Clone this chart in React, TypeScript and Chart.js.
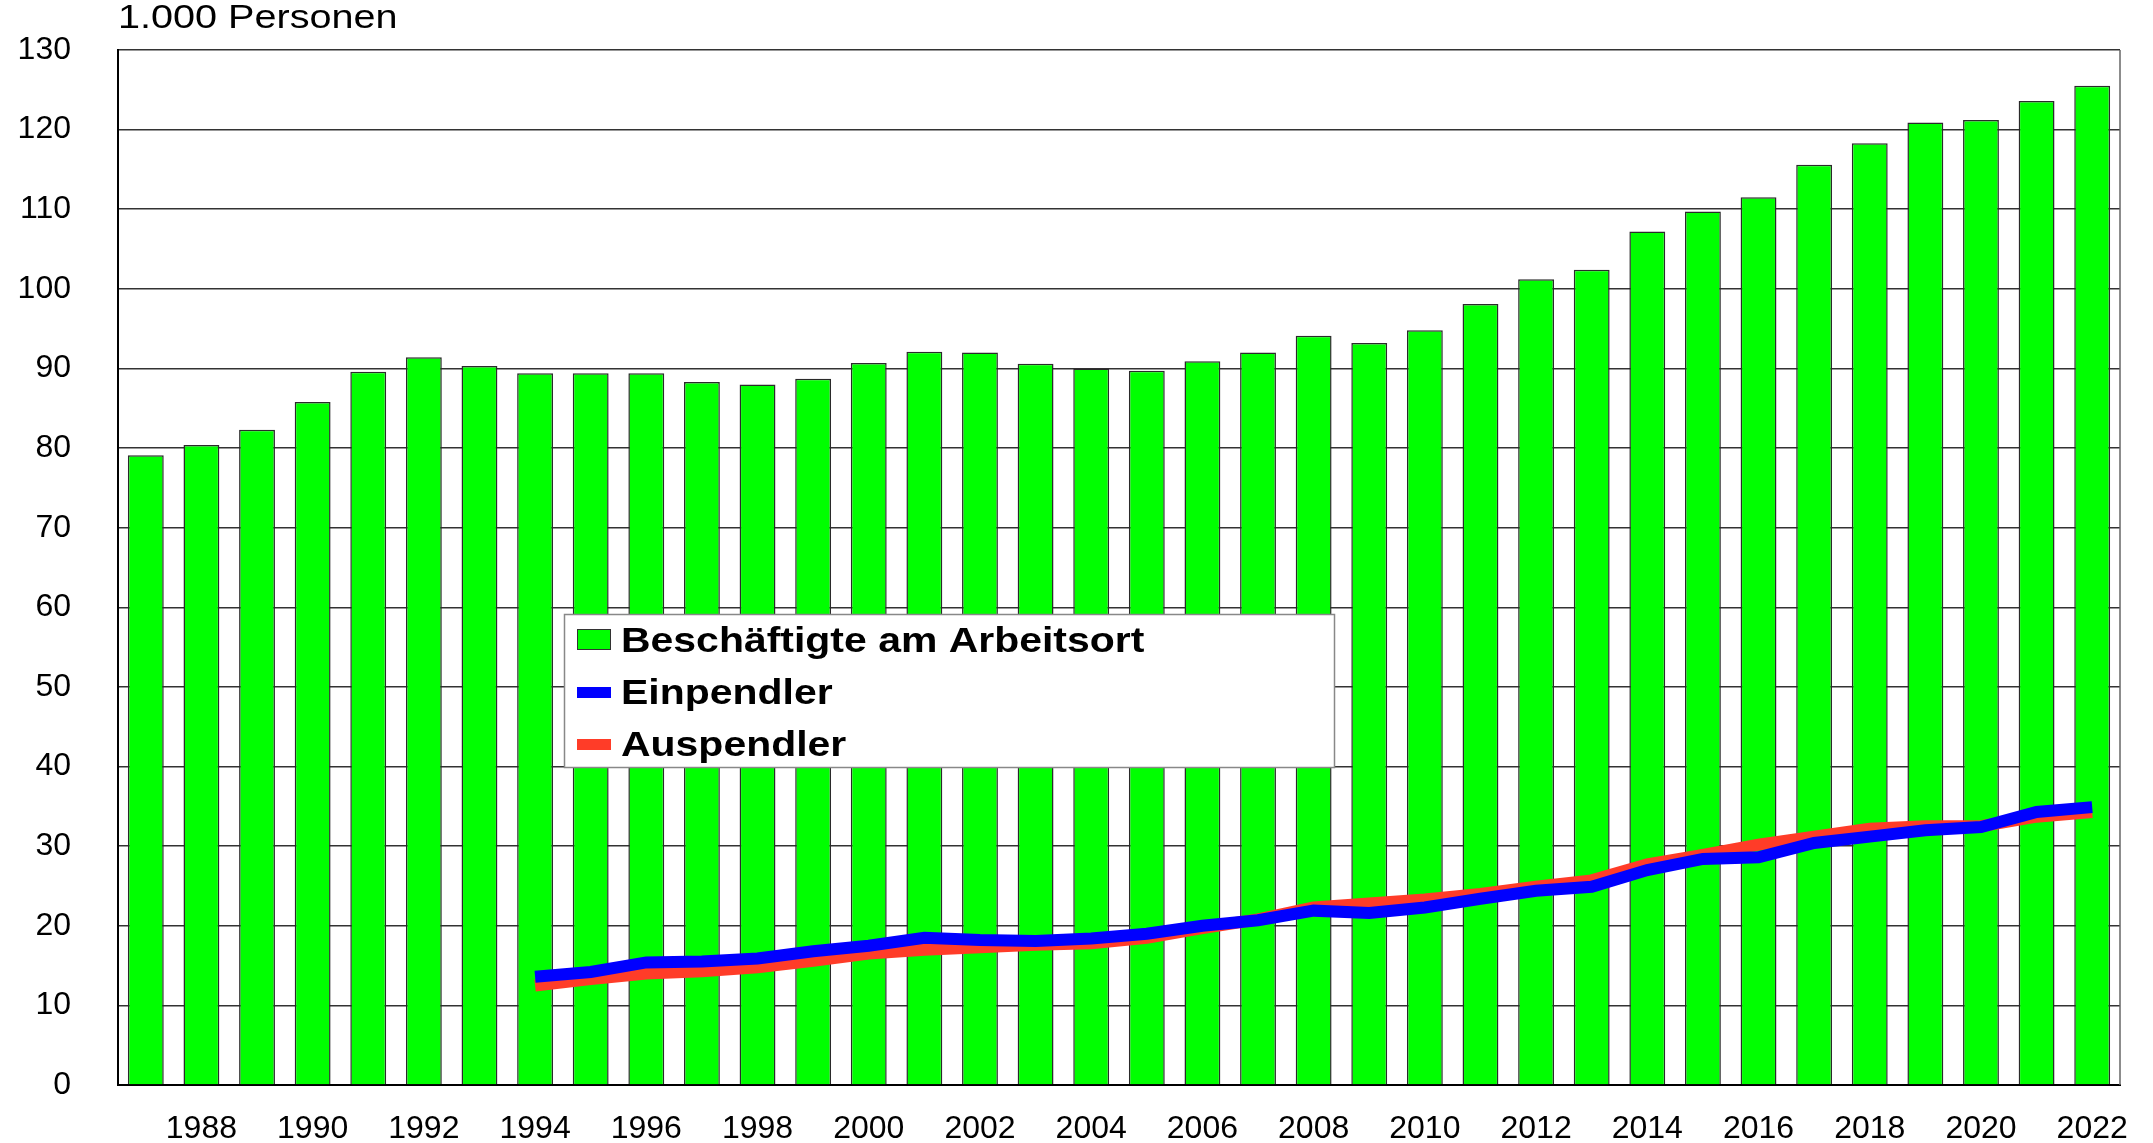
import React, { useEffect, useRef } from "react";
import { Chart, registerables } from "chart.js";

Chart.register(...registerables);

const years = [
  "1987", "1988", "1989", "1990", "1991", "1992", "1993", "1994", "1995", "1996",
  "1997", "1998", "1999", "2000", "2001", "2002", "2003", "2004", "2005", "2006",
  "2007", "2008", "2009", "2010", "2011", "2012", "2013", "2014", "2015", "2016",
  "2017", "2018", "2019", "2020", "2021", "2022",
];

const beschaeftigte = [
  79.1, 80.4, 82.3, 85.8, 89.6, 91.4, 90.3, 89.4, 89.4, 89.4,
  88.3, 88.0, 88.7, 90.7, 92.1, 92.0, 90.6, 90.0, 89.7, 90.9,
  92.0, 94.1, 93.2, 94.8, 98.1, 101.2, 102.4, 107.2, 109.7, 111.5,
  115.6, 118.3, 120.9, 121.2, 123.6, 125.5,
];

const einpendler = [
  null, null, null, null, null, null, null,
  13.6, 14.2, 15.4, 15.5, 15.9, 16.8, 17.5, 18.5, 18.2, 18.1, 18.4,
  19.0, 20.0, 20.7, 21.9, 21.6, 22.3, 23.4, 24.4, 24.9, 27.0, 28.4, 28.6,
  30.4, 31.2, 32.0, 32.4, 34.3, 34.9,
];

const auspendler = [
  null, null, null, null, null, null, null,
  12.5, 13.3, 14.0, 14.3, 14.8, 15.6, 16.5, 17.0, 17.3, 17.6, 17.8,
  18.5, 19.7, 20.8, 22.3, 22.8, 23.3, 24.0, 24.9, 25.7, 27.7, 28.9, 30.2,
  31.2, 32.2, 32.5, 32.5, 33.7, 34.3,
];

const yMin = 0;
const yMax = 130;
const yStep = 10;
const unitTitle = "1.000 Personen";

const FONT = "'Liberation Sans', Arial, sans-serif";

function stretchedText(ctx: CanvasRenderingContext2D, text: string, x: number, y: number, sx: number) {
  ctx.save();
  ctx.translate(x, y);
  ctx.scale(sx, 1);
  ctx.fillText(text, 0, 0);
  ctx.restore();
}

const customPlugin = {
  id: "customDecor",
  afterDatasetsDraw(chart: any) {
    const { ctx, chartArea } = chart;
    ctx.save();
    ctx.strokeStyle = "#666";
    ctx.lineWidth = 1.5;
    ctx.beginPath();
    ctx.moveTo(chartArea.right, chartArea.top);
    ctx.lineTo(chartArea.right, chartArea.bottom);
    ctx.stroke();
    ctx.restore();
  },
  afterDraw(chart: any) {
    const { ctx, chartArea } = chart;
    ctx.save();
    // unit title
    ctx.fillStyle = "#000";
    ctx.font = `33px ${FONT}`;
    ctx.textBaseline = "alphabetic";
    ctx.textAlign = "left";
    stretchedText(ctx, unitTitle, chartArea.left, 28, 1.2);

    // legend box
    const bx = 564.5;
    const by = 614.5;
    const bw = 770;
    const bh = 153;
    ctx.fillStyle = "#fff";
    ctx.fillRect(bx, by, bw, bh);
    ctx.strokeStyle = "#888";
    ctx.lineWidth = 1.5;
    ctx.strokeRect(bx, by, bw, bh);

    const baselines = [652, 704, 756];
    chart.data.datasets.forEach((ds: any, i: number) => {
      const base = baselines[i];
      if (ds.type === "line") {
        ctx.fillStyle = ds.borderColor;
        ctx.fillRect(577, base - 17, 34, 11);
      } else {
        ctx.fillStyle = ds.backgroundColor;
        ctx.fillRect(577, base - 23, 34, 20);
        ctx.strokeStyle = "#333";
        ctx.lineWidth = 1;
        ctx.strokeRect(577.5, base - 22.5, 33, 20);
      }
      ctx.fillStyle = "#000";
      ctx.font = `bold 35px ${FONT}`;
      stretchedText(ctx, ds.label, 621, base, 1.17);
    });
    ctx.restore();
  },
};

export default function App() {
  const ref = useRef<HTMLCanvasElement>(null);

  useEffect(() => {
    const canvas = ref.current;
    if (!canvas) return;
    const chart = new Chart(canvas, {
      type: "bar",
      data: {
        labels: years,
        datasets: [
          {
            type: "bar",
            label: "Beschäftigte am Arbeitsort",
            data: beschaeftigte,
            backgroundColor: "#00FF00",
            borderColor: "#2a2a2a",
            borderWidth: 1.5,
            barPercentage: 0.645,
            categoryPercentage: 1,
            order: 3,
          },
          {
            type: "line",
            label: "Einpendler",
            data: einpendler,
            borderColor: "#0000FF",
            backgroundColor: "#0000FF",
            borderWidth: 12,
            pointRadius: 0,
            tension: 0,
            borderCapStyle: "butt",
            borderJoinStyle: "miter",
            spanGaps: false,
            order: 1,
          },
          {
            type: "line",
            label: "Auspendler",
            data: auspendler,
            borderColor: "#FF3C28",
            backgroundColor: "#FF3C28",
            borderWidth: 12,
            pointRadius: 0,
            tension: 0,
            borderCapStyle: "butt",
            borderJoinStyle: "miter",
            spanGaps: false,
            order: 2,
          },
        ] as any,
      },
      options: {
        animation: false,
        responsive: false,
        maintainAspectRatio: false,
        layout: { autoPadding: false, padding: { top: 50, right: 33, left: 0, bottom: 0 } },
        plugins: {
          legend: { display: false },
          title: { display: false },
          tooltip: { enabled: false },
        },
        scales: {
          x: {
            grid: { display: false, drawTicks: false },
            border: { display: true, color: "#000", width: 2 },
            ticks: {
              autoSkip: false,
              maxRotation: 0,
              minRotation: 0,
              padding: 25,
              color: "#000",
              font: { family: FONT, size: 32 },
              callback: (_v: any, i: number) => (Number(years[i]) % 2 === 0 ? years[i] : ""),
            },
            afterFit: (s: any) => {
              s.height = 58;
              s.paddingLeft = 0;
              s.paddingRight = 0;
            },
          },
          y: {
            min: yMin,
            max: yMax,
            ticks: {
              stepSize: yStep,
              padding: 47,
              color: "#000",
              font: { family: FONT, size: 32 },
            },
            grid: { color: "#333", lineWidth: 1.5, drawTicks: false },
            border: { display: true, color: "#000", width: 2 },
            afterFit: (s: any) => {
              s.width = 118;
              s.paddingTop = 0;
              s.paddingBottom = 0;
            },
          },
        },
      } as any,
      plugins: [customPlugin],
    });
    return () => chart.destroy();
  }, []);

  return (
    <div style={{ position: "absolute", left: 0, top: 0, width: 2153, height: 1143, background: "#fff" }}>
      <canvas ref={ref} width={2153} height={1143} style={{ display: "block", width: 2153, height: 1143 }} />
    </div>
  );
}
